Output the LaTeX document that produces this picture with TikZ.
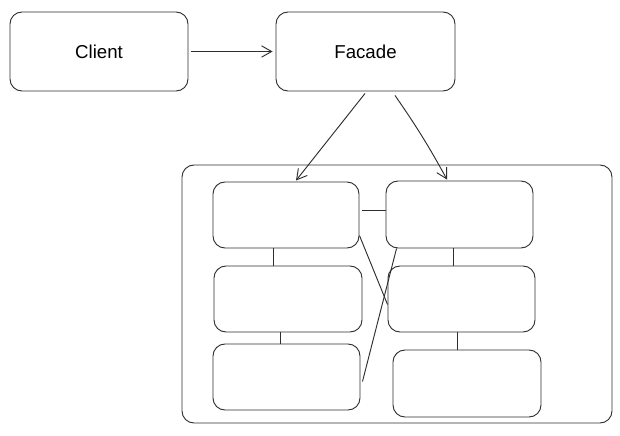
\documentclass[tikz,border=0pt]{standalone}
\usepackage{fontspec}
\setmainfont{Liberation Sans}
\usetikzlibrary{arrows.meta,fit,calc}

\tikzset{
  ink/.style={draw=black!82, line width=0.7pt},
  box/.style={ink, rounded corners=9pt, inner sep=0pt},
  caption/.style={label={[font=\fontsize{14}{16}\selectfont, yshift=-0.5pt]center:#1}},
  link/.style={ink},
  flow/.style={ink, -{Straight Barb[length=7.5pt,width=8.5pt,line width=0.7pt]}},
}

\begin{document}
\begin{tikzpicture}[x=0.75pt, y=-0.75pt]
  \useasboundingbox (0,0) rectangle (620,435);
  \fill[white] (0,0) rectangle (620,435);

  % top row
  \node[box, caption=Client, fit={(10,12) (188,91)}]  (client) {};
  \node[box, caption=Facade, fit={(276,12) (455,91)}] (facade) {};

  % subsystem container
  \node[box, fit={(182,165) (612,423)}] (sub) {};

  % subsystem classes
  \node[box, fit={(213,182) (359,248)}] (a) {};
  \node[box, fit={(386,181) (533,248)}] (b) {};
  \node[box, fit={(214,266) (362,332)}] (c) {};
  \node[box, fit={(388,266) (535,332)}] (d) {};
  \node[box, fit={(213,344) (360,410)}] (e) {};
  \node[box, fit={(393,350) (541,417)}] (f) {};

  % client calls facade
  \draw[flow] ($(client.east)+(3,0)$) -- ($(facade.west)+(-3,0)$);

  % facade delegates into the subsystem
  \draw[flow] ($(facade.south)+(-0.5,2)$) -- ($(a.north)+(10,-1)$);
  \draw[flow] ($(facade.south)+(29.5,4)$) to[bend left=3] ($(b.north)+(-12.5,-1)$);

  % internal links
  \draw[link] ($(a.north east)+(3,29)$) -- ($(b.north west)+(0,30)$);
  \draw[link] ($(a.south west)+(61,0)$) -- ($(c.north west)+(60,0)$);
  \draw[link] ($(c.south west)+(67,0)$) -- ($(e.north west)+(68,0)$);
  \draw[link] ($(b.south west)+(68,0)$) -- ($(d.north west)+(66,0)$);
  \draw[link] ($(d.south west)+(70,0)$) -- ($(f.north west)+(65,0)$);
  \draw[link] ($(a.north east)+(0,54)$) -- ($(d.north west)+(0,39)$);
  \draw[link] ($(b.south west)+(11,0)$) -- ($(e.north east)+(2,38)$);
\end{tikzpicture}
\end{document}
